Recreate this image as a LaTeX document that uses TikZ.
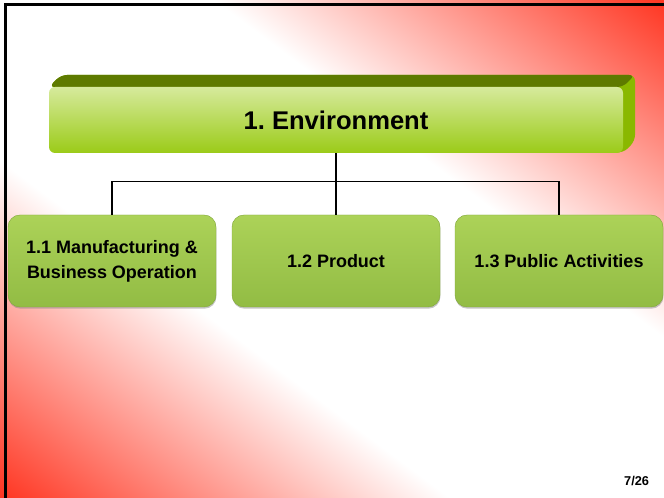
\documentclass[tikz,border=0pt]{standalone}
\usepackage{fontspec}
\setmainfont{Liberation Sans}
\usetikzlibrary{shapes,shadows}
\definecolor{bgred}{RGB}{255,52,32}
\definecolor{topface}{RGB}{94,122,0}
\definecolor{sideface}{RGB}{138,184,0}
\definecolor{frontlight}{RGB}{214,234,156}
\definecolor{frontdark}{RGB}{155,203,24}
\definecolor{boxlight}{RGB}{172,210,88}
\definecolor{boxdark}{RGB}{146,188,68}
\pgfdeclareverticalshading{slidebg}{100bp}{color(0bp)=(bgred); color(25bp)=(bgred);
  color(42bp)=(white); color(58bp)=(white); color(75bp)=(bgred); color(100bp)=(bgred)}

\begin{document}
\begin{tikzpicture}
\tikzstyle{subbox}=[rectangle, rounded corners=0.3cm, top color=boxlight, bottom color=boxdark,
    draw=boxdark!90!black, line width=0.3pt, minimum width=5.2cm, minimum height=2.3cm, align=center,
    font=\bfseries\fontsize{12.8}{17.8}\selectfont,
    drop shadow={shadow xshift=0.3pt, shadow yshift=-1.2pt, opacity=0.45}]
\tikzstyle{link}=[line width=1pt]

\useasboundingbox (0,0) rectangle (16.6,12.45);
\begin{scope}
\clip (0,0) rectangle (16.6,12.45);
\begin{scope}[transform canvas={rotate around={-36.87:(8.3,6.225)}}]
\shade[shading=slidebg] (-1.7,-3.775) rectangle (18.3,16.225);
\end{scope}
\end{scope}
\draw[line width=1.5pt] (0.1375,0) -- (0.1375,12.3375) -- (16.6,12.3375);

    \fill[sideface, rounded corners=0.15cm] (1.225,10.275) -- (1.525,10.575) -- (15.875,10.575)
    -- (15.875,8.925) -- (15.575,8.625) -- cycle;
    \fill[topface, rounded corners=0.15cm] (1.225,10.275) -- (1.525,10.575) -- (15.875,10.575)
    -- (15.575,10.275) -- cycle;
    \node[rectangle, rounded corners=0.15cm, top color=frontlight, bottom color=frontdark,
    minimum width=14.35cm, minimum height=1.65cm,
    font=\bfseries\fontsize{18.2}{22}\selectfont] (env) at (8.4,9.45) {1.\ Environment};

 \node[subbox] (c1) at (2.8,5.925) {1.1 Manufacturing \&\\Business Operation};
 \node[subbox] (c2) at (8.4,5.925) {1.2 Product};
 \node[subbox] (c3) at (13.975,5.925) {1.3 Public Activities};

\draw[link] (env.south) -- ++(0,-0.7) -| (c1.north);
\draw[link] (env.south) -- ++(0,-0.7) -| (c3.north);
\draw[link] (env.south) -- (c2.north);

\node[anchor=base east, font=\bfseries\fontsize{9.1}{11}\selectfont] (page) at (16.35,0.3) {7/26};

\end{tikzpicture}
\end{document}
